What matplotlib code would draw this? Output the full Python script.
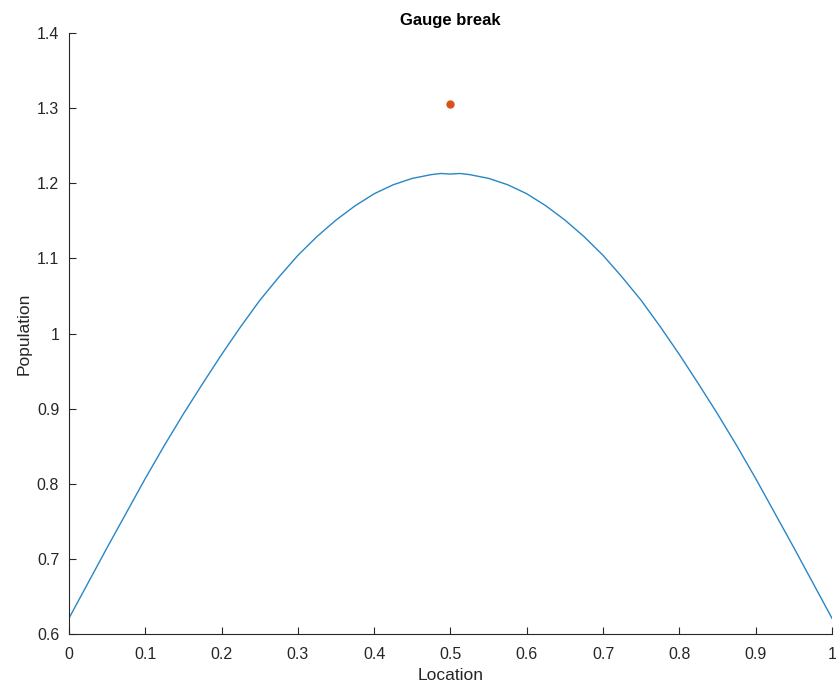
import numpy as np
import matplotlib
matplotlib.use('Agg')
import matplotlib.pyplot as plt

# values (left half, mirrored for the right half)
loc_left = [0.0, 0.025, 0.05, 0.075, 0.1, 0.125, 0.15, 0.175, 0.2, 0.225,
            0.25, 0.275, 0.3, 0.325, 0.35, 0.375, 0.4, 0.425, 0.45, 0.475, 0.4875]
pop_left = [0.621, 0.668, 0.715, 0.761, 0.807, 0.851, 0.893, 0.933, 0.972, 1.009,
            1.044, 1.075, 1.104, 1.129, 1.151, 1.170, 1.186, 1.198, 1.2065, 1.2115, 1.2130]
loc_mid = [0.5]
pop_mid = [1.2122]

location = loc_left + loc_mid + [1 - v for v in loc_left[::-1]]
population = pop_left + pop_mid + pop_left[::-1]

point_x = [0.5]
point_y = [1.3055]

plt.rcParams['font.family'] = ['Liberation Sans', 'DejaVu Sans']

fig = plt.figure(figsize=(8.37, 6.93), dpi=100)
ax = fig.add_axes([0.0824, 0.0851, 0.9116, 0.8673])

ax.plot(location, population, color='#0072BD', lw=1.0, alpha=0.85)
ax.plot(point_x, point_y, 'o', color='#D95319', markersize=5)

ax.set_xlim(0, 1)
ax.set_ylim(0.6, 1.4)
ax.set_xticks(np.arange(0, 1.01, 0.1))
ax.set_xticklabels(['0', '0.1', '0.2', '0.3', '0.4', '0.5', '0.6', '0.7', '0.8', '0.9', '1'])
ax.set_yticks(np.arange(0.6, 1.41, 0.1))
ax.set_yticklabels(['0.6', '0.7', '0.8', '0.9', '1', '1.1', '1.2', '1.3', '1.4'])

for s in ['top', 'right']:
    ax.spines[s].set_visible(False)
for s in ['left', 'bottom']:
    ax.spines[s].set_color('#262626')
    ax.spines[s].set_linewidth(0.8)
ax.tick_params(direction='in', length=5, width=0.8, colors='#262626', labelsize=11.5)
ax.tick_params(axis='x', pad=9)
ax.tick_params(axis='y', pad=7)

ax.set_xlabel('Location', fontsize=12.5, color='#262626', labelpad=5)
ax.set_ylabel('Population', fontsize=12.5, color='#262626', labelpad=4)
ax.set_title('Gauge break', fontsize=12, fontweight='bold', color='black', pad=6)

fig.savefig('out.png', dpi=100)
